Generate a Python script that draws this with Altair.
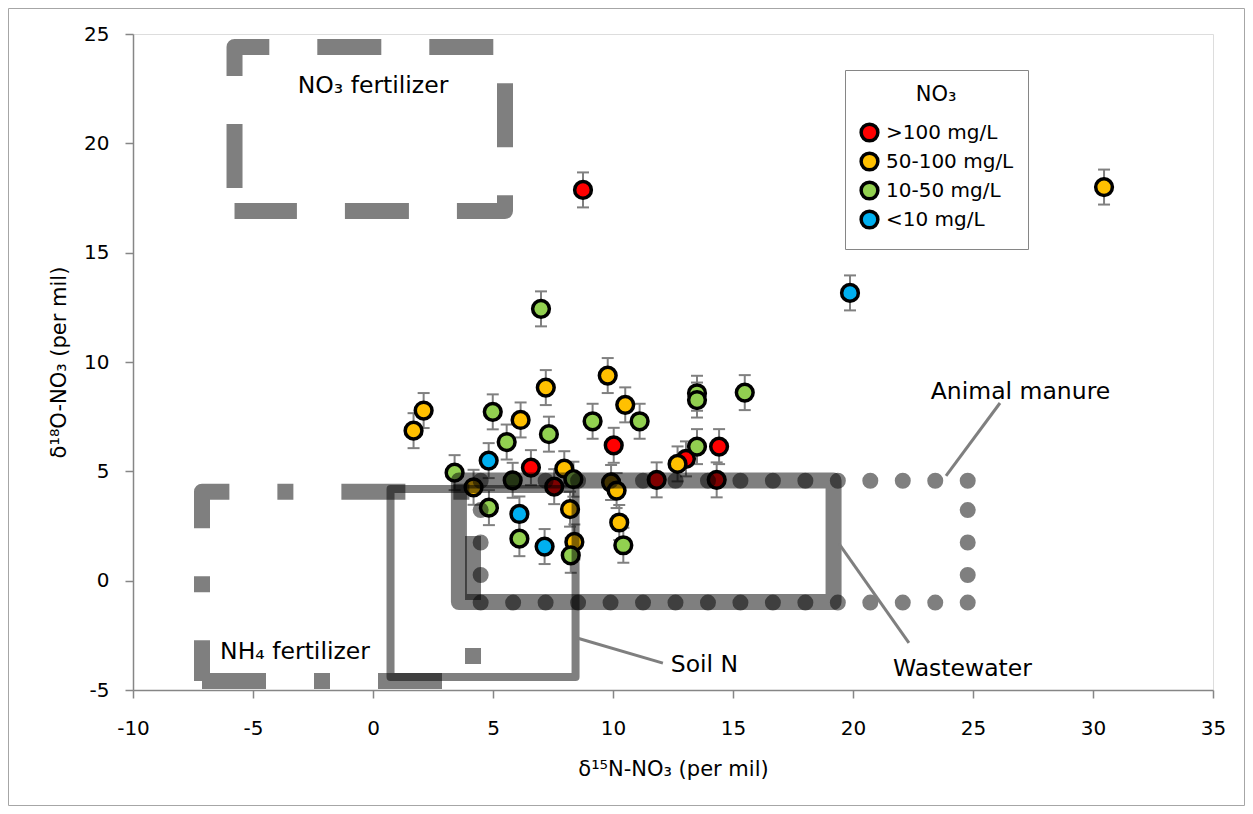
import altair as alt
import pandas as pd

FONT = "DejaVu Sans"

# ---- data ----
categories = [">100 mg/L", "50-100 mg/L", "10-50 mg/L", "<10 mg/L"]
colors = ["#FF0000", "#FFC000", "#92D050", "#00B0F0"]

red_x = [8.75, 10.03, 6.58, 7.55, 11.82, 13.04, 14.42, 14.32]
red_y = [17.87, 6.19, 5.17, 4.30, 4.61, 5.57, 6.13, 4.61]
orange_x = [30.46, 9.78, 7.2, 2.11, 1.69, 6.15, 10.51, 12.69, 7.97, 4.19, 9.92, 10.15, 8.21, 10.26, 8.39]
orange_y = [18.0, 9.38, 8.83, 7.78, 6.86, 7.35, 8.04, 5.34, 5.12, 4.27, 4.49, 4.12, 3.27, 2.66, 1.77]
green_x = [7.0, 4.99, 5.57, 7.33, 9.15, 11.11, 3.4, 5.82, 8.35, 4.83, 6.1, 8.24, 10.43, 13.5, 13.5, 15.49, 13.5]
green_y = [12.43, 7.72, 6.34, 6.70, 7.29, 7.29, 4.94, 4.59, 4.64, 3.34, 1.92, 1.16, 1.62, 8.57, 8.26, 8.60, 6.13]
blue_x = [19.875, 4.82, 6.1, 7.15]
blue_y = [13.16, 5.49, 3.05, 1.56]
err = 0.8

x_ticks = [-10, -5, 0, 5, 10, 15, 20, 25, 30, 35]
y_ticks = [-5, 0, 5, 10, 15, 20, 25]
x_title = "δ¹⁵N-NO₃ (per mil)"
y_title = "δ¹⁸O-NO₃ (per mil)"

# source boxes (corner points)
no3f_x = [-5.77, -5.77, 5.5, 5.5, -5.77]
no3f_y = [16.9, 24.41, 24.41, 16.9, 16.9]
nh4f_x = [-7.125, 4.167, 4.167, -7.125, -7.125]
nh4f_y = [-4.59, -4.59, 4.07, 4.07, -4.59]
soil_x = [0.73, 8.44, 8.44, 0.73]
soil_y = [-4.4, -4.4, 4.19, 4.19]
waste_x = [3.58, 19.19, 19.19, 3.58]
waste_y = [-0.98, -0.98, 4.58, 4.58]
manure_side = ["top", "top", "bottom", "bottom", "left", "left", "right", "right"]
manure_x = [4.486, 24.78, 4.486, 24.78, 4.486, 4.486, 24.78, 24.78]
manure_y = [4.57, 4.57, -1.0, -1.0, 3.23, 0.26, 3.23, 0.26]

label_text = ["NO₃ fertilizer", "NH₄ fertilizer", "Soil N", "Wastewater", "Animal manure"]
label_x = [0.0, -3.25, 13.81, 24.56, 26.98]
label_y = [22.62, -3.26, -3.86, -4.04, 8.63]

lead_x = [26.125, 19.42, 8.5]
lead_y = [8.125, 1.68, -2.62]
lead_x2 = [23.875, 22.33, 12.08]
lead_y2 = [4.79, -2.85, -3.77]

# ---- tables ----
pts = pd.DataFrame({
    "x": red_x + orange_x + green_x + blue_x,
    "y": red_y + orange_y + green_y + blue_y,
    "cat": [categories[0]] * len(red_x) + [categories[1]] * len(orange_x)
           + [categories[2]] * len(green_x) + [categories[3]] * len(blue_x),
})
pts["lo"] = pts["y"] - err
pts["hi"] = pts["y"] + err

xs = alt.Scale(domain=[-10, 35], nice=False, zero=False)
ys = alt.Scale(domain=[-5, 25], nice=False, zero=False)

AX = dict(grid=False, domainColor="#868686", domainWidth=1.5, tickColor="#868686",
          tickWidth=1.5, tickSize=8, labelFont=FONT, labelFontSize=20, labelColor="black",
          titleFont=FONT, titleFontSize=21, titleFontWeight="normal", titleColor="black",
          labelExpr="datum.value + ''", labelOverlap=False, labelFlush=False,
          titleBaseline="middle", titleAlign="center")

xaxis = alt.Axis(values=x_ticks, labelPadding=20, titleX=540, titleY=79, **AX)
yaxis = alt.Axis(values=y_ticks, labelPadding=16, titleX=-73.5, titleY=328, **AX)


def X(f):
    return alt.X(f, type="quantitative", scale=xs, axis=xaxis, title=x_title)


def Y(f):
    return alt.Y(f, type="quantitative", scale=ys, axis=yaxis, title=y_title)


frame = alt.Chart(pd.DataFrame({"a": [0]})).mark_rect(
    fillOpacity=0, stroke="#a6a6a6", strokeWidth=1, clip=False
).encode(x=alt.value(-124.5), x2=alt.value(1111.5), y=alt.value(-25.5), y2=alt.value(771.5))

base = alt.Chart(pts)
bars = base.mark_rule(color="#808080", strokeWidth=2).encode(x=X("x"), y=Y("lo"), y2="hi:Q")
cap_lo = base.mark_tick(orient="horizontal", size=12, thickness=2, color="#808080", opacity=1).encode(
    x=X("x"), y=Y("lo"))
cap_hi = base.mark_tick(orient="horizontal", size=12, thickness=2, color="#808080", opacity=1).encode(
    x=X("x"), y=Y("hi"))

legend = alt.Legend(
    title="NO₃", orient="none", legendX=712, legendY=36, direction="vertical",
    strokeColor="#868686", fillColor="white", padding=14,
    titleFont=FONT, titleFontSize=21, titleFontWeight="normal", titleColor="black",
    titleAnchor="middle", titlePadding=17,
    labelFont=FONT, labelFontSize=20, labelColor="black", labelOffset=6,
    symbolType="circle", symbolSize=280, symbolStrokeColor="black",
    symbolStrokeWidth=3.5, symbolOpacity=1, rowPadding=-2)

points = base.mark_point(filled=True, shape="circle", size=280, stroke="black",
                         strokeWidth=3.5, opacity=1).encode(
    x=X("x"), y=Y("y"),
    color=alt.Color("cat:N", scale=alt.Scale(domain=categories, range=colors), legend=legend))


def poly(px, py, **mark):
    df = pd.DataFrame({"x": px, "y": py, "i": list(range(len(px)))})
    return alt.Chart(df).mark_line(color="black", opacity=0.5, **mark).encode(
        x=X("x"), y=Y("y"), order="i:Q")


no3f = poly(no3f_x, no3f_y, strokeWidth=16, strokeDash=[64, 48], strokeDashOffset=89,
            strokeCap="butt", strokeJoin="round")
nh4f = poly(nh4f_x, nh4f_y, strokeWidth=16, strokeDash=[64, 48, 16, 48],
            strokeCap="butt", strokeJoin="round")
soil = poly(soil_x, soil_y, strokeWidth=8, interpolate="linear-closed", strokeJoin="round")
waste = poly(waste_x, waste_y, strokeWidth=16, interpolate="linear-closed", strokeJoin="round")

mdf = pd.DataFrame({"x": manure_x, "y": manure_y, "side": manure_side,
                    "i": list(range(len(manure_x)))})
manure = alt.Chart(mdf).mark_line(color="black", opacity=0.5, strokeWidth=16,
                                  strokeDash=[0.01, 32.46], strokeCap="round").encode(
    x=X("x"), y=Y("y"), detail="side:N", order="i:Q")

ldf = pd.DataFrame({"x": lead_x, "y": lead_y, "x2": lead_x2, "y2": lead_y2})
leaders = alt.Chart(ldf).mark_rule(color="#7f7f7f", strokeWidth=3).encode(
    x=X("x"), y=Y("y"), x2="x2:Q", y2="y2:Q")

tdf = pd.DataFrame({"t": label_text, "x": label_x, "y": label_y})
texts = alt.Chart(tdf).mark_text(font=FONT, fontSize=23.5, color="black",
                                 align="center", baseline="middle").encode(
    x=X("x"), y=Y("y"), text="t:N")

chart = alt.layer(frame, bars, cap_lo, cap_hi, points, no3f, nh4f, soil, waste, manure,
                  leaders, texts).properties(
    width=1080, height=656,
    padding={"left": 125, "top": 26, "right": 32, "bottom": 116},
    autosize=alt.AutoSizeParams(type="none"),
).configure_view(stroke="#868686", strokeWidth=1.5).configure(background="white")

chart.save("out.html", embed_options={"renderer": "svg", "actions": False})
